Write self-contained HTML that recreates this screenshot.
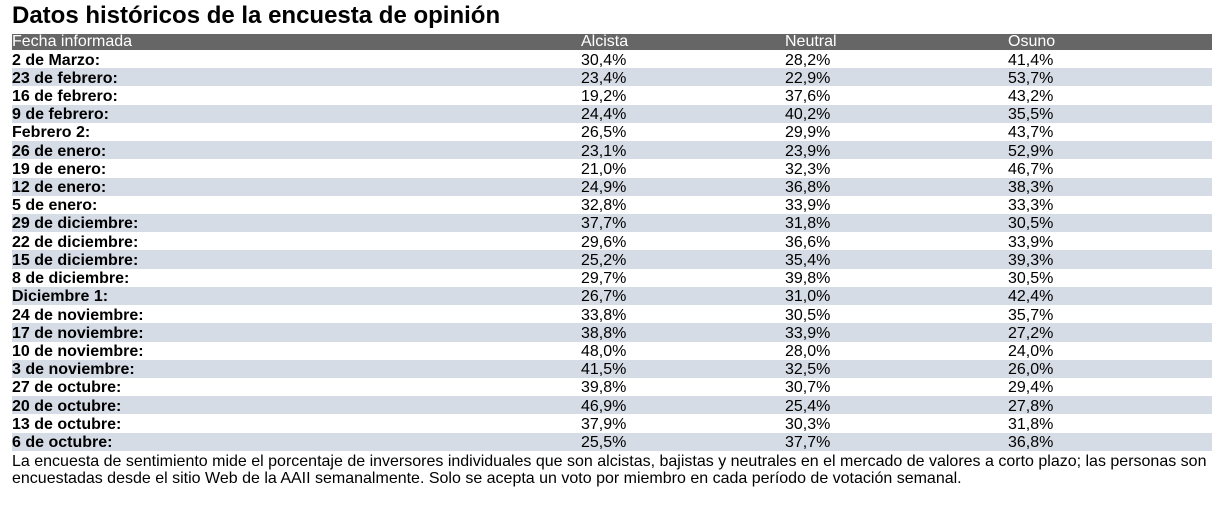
<!DOCTYPE html>
<html><head><meta charset="utf-8"><style>
body{margin:0;width:1224px;height:513px;background:#fff;font-family:"Liberation Sans",Arial,sans-serif;color:#000;position:relative;overflow:hidden}
h1{position:absolute;left:12px;top:2px;margin:0;font-size:24px;font-weight:bold;line-height:28px}
.t{position:absolute;left:12px;top:34px;width:1200px}
.r{height:18.23px;line-height:18.23px;font-size:16px;position:relative;white-space:nowrap}
.h{height:16px;line-height:16px;background:#666;color:#fff;font-size:16px;position:relative}
.r:nth-child(odd){background:#d6dce6}
.r span,.h span{position:absolute;top:0}
.r span,.r b{top:1.5px}
.a{left:569px}.n{left:773px}.o{left:996px}
.r b{position:absolute;left:0}
.f{position:absolute;left:12px;top:453px;width:1205px;font-size:16px;line-height:17px}
</style></head><body>
<h1>Datos históricos de la encuesta de opinión</h1>
<div class="t">
<div class="h"><span style="left:0">Fecha informada</span><span class="a">Alcista</span><span class="n">Neutral</span><span class="o">Osuno</span></div>
<div class="r"><b>2 de Marzo:</b><span class="a">30,4%</span><span class="n">28,2%</span><span class="o">41,4%</span></div>
<div class="r"><b>23 de febrero:</b><span class="a">23,4%</span><span class="n">22,9%</span><span class="o">53,7%</span></div>
<div class="r"><b>16 de febrero:</b><span class="a">19,2%</span><span class="n">37,6%</span><span class="o">43,2%</span></div>
<div class="r"><b>9 de febrero:</b><span class="a">24,4%</span><span class="n">40,2%</span><span class="o">35,5%</span></div>
<div class="r"><b>Febrero 2:</b><span class="a">26,5%</span><span class="n">29,9%</span><span class="o">43,7%</span></div>
<div class="r"><b>26 de enero:</b><span class="a">23,1%</span><span class="n">23,9%</span><span class="o">52,9%</span></div>
<div class="r"><b>19 de enero:</b><span class="a">21,0%</span><span class="n">32,3%</span><span class="o">46,7%</span></div>
<div class="r"><b>12 de enero:</b><span class="a">24,9%</span><span class="n">36,8%</span><span class="o">38,3%</span></div>
<div class="r"><b>5 de enero:</b><span class="a">32,8%</span><span class="n">33,9%</span><span class="o">33,3%</span></div>
<div class="r"><b>29 de diciembre:</b><span class="a">37,7%</span><span class="n">31,8%</span><span class="o">30,5%</span></div>
<div class="r"><b>22 de diciembre:</b><span class="a">29,6%</span><span class="n">36,6%</span><span class="o">33,9%</span></div>
<div class="r"><b>15 de diciembre:</b><span class="a">25,2%</span><span class="n">35,4%</span><span class="o">39,3%</span></div>
<div class="r"><b>8 de diciembre:</b><span class="a">29,7%</span><span class="n">39,8%</span><span class="o">30,5%</span></div>
<div class="r"><b>Diciembre 1:</b><span class="a">26,7%</span><span class="n">31,0%</span><span class="o">42,4%</span></div>
<div class="r"><b>24 de noviembre:</b><span class="a">33,8%</span><span class="n">30,5%</span><span class="o">35,7%</span></div>
<div class="r"><b>17 de noviembre:</b><span class="a">38,8%</span><span class="n">33,9%</span><span class="o">27,2%</span></div>
<div class="r"><b>10 de noviembre:</b><span class="a">48,0%</span><span class="n">28,0%</span><span class="o">24,0%</span></div>
<div class="r"><b>3 de noviembre:</b><span class="a">41,5%</span><span class="n">32,5%</span><span class="o">26,0%</span></div>
<div class="r"><b>27 de octubre:</b><span class="a">39,8%</span><span class="n">30,7%</span><span class="o">29,4%</span></div>
<div class="r"><b>20 de octubre:</b><span class="a">46,9%</span><span class="n">25,4%</span><span class="o">27,8%</span></div>
<div class="r"><b>13 de octubre:</b><span class="a">37,9%</span><span class="n">30,3%</span><span class="o">31,8%</span></div>
<div class="r"><b>6 de octubre:</b><span class="a">25,5%</span><span class="n">37,7%</span><span class="o">36,8%</span></div>
</div>
<div class="f">La encuesta de sentimiento mide el porcentaje de inversores individuales que son alcistas, bajistas y neutrales en el mercado de valores a corto plazo; las personas son encuestadas desde el sitio Web de la AAII semanalmente. Solo se acepta un voto por miembro en cada período de votación semanal.</div>
</body></html>
